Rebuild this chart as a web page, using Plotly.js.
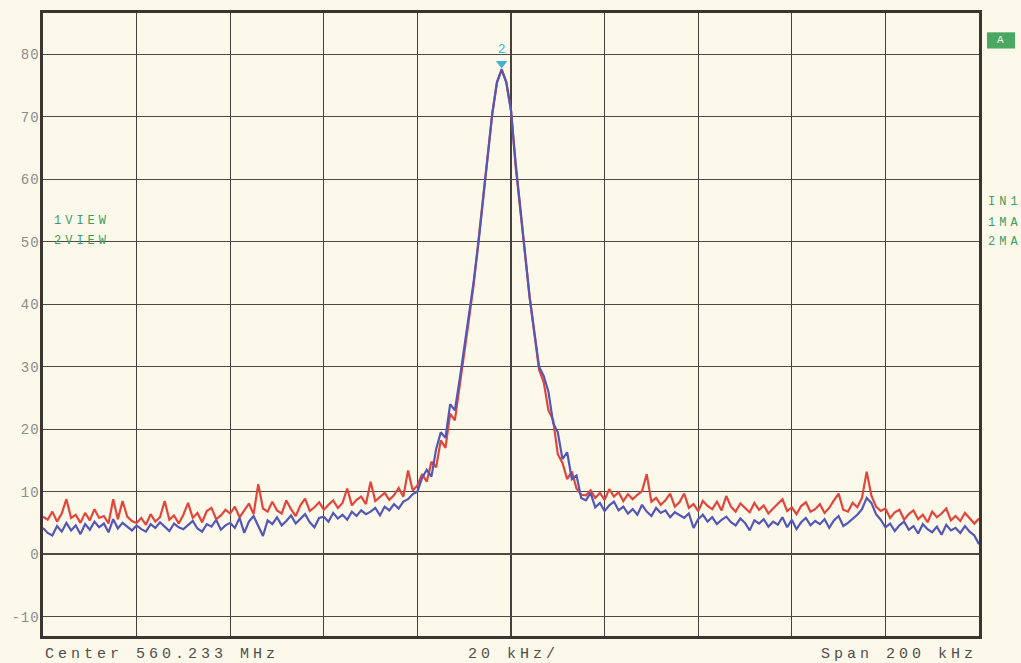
<!DOCTYPE html>
<html>
<head>
<meta charset="utf-8">
<script src="https://cdn.plot.ly/plotly-3.0.1.min.js"></script>
<style>
  html, body { margin: 0; padding: 0; background: #fcf9ea; }
  #chart { width: 1021px; height: 663px; }
  .annotation-text { letter-spacing: 4px; }
  .ytick text { letter-spacing: 1px; }
</style>
</head>
<body>
<div id="chart"></div>
<script>
// Sweep: 560.233 MHz centre, 200 kHz span, offsets in kHz (one point per kHz)
const freqStart = -100, freqStep = 1;

// Trace 1 (red), dB, offsets -100 ... +100 kHz
const redLeft = [
  6.0, 5.5, 6.8, 5.2, 6.5, 8.8, 5.8, 6.3, 5.0, 6.6,
  5.4, 7.2, 5.8, 6.1, 4.9, 8.8, 5.6, 8.5, 6.0, 5.3,
  5.0, 5.8, 4.7, 6.4, 5.2, 5.9, 8.5, 5.5, 6.2, 4.9,
  6.3, 8.2, 5.8, 6.6, 5.1, 6.9, 7.4, 5.6, 6.2, 7.1,
  6.5, 7.6, 5.9, 7.0, 8.1, 6.4, 11.2, 7.3, 6.8, 8.4,
  7.0, 6.5, 8.6, 7.2, 6.1, 7.8, 8.9, 6.9, 7.5, 8.3,
  7.1, 7.9, 8.6, 7.4, 8.2, 10.5, 7.8, 8.7, 9.2, 8.0,
  11.6, 8.5, 9.1, 9.8, 8.7, 9.4, 10.6, 9.2, 13.4, 10.2
];
const redPeak = [
  11.0, 12.8, 11.6, 14.8, 13.9, 18.2, 17.0, 22.5, 21.4, 26.5,
  32.0, 37.5, 43.0, 50.0, 57.0, 64.0, 70.5, 75.5, 77.6, 75.5,
  71.0, 62.0, 55.5, 48.0, 41.0, 35.5, 29.5, 27.5, 23.0, 21.5,
  16.0, 14.6, 12.0, 13.2, 10.5, 9.5
];
const redRight = [
  9.4, 10.2, 9.0, 9.8, 8.7, 10.4, 9.2, 9.9, 8.5, 9.6,
  8.8, 9.5, 10.1, 12.8, 8.4, 9.0, 7.9, 8.6, 9.7, 7.6,
  8.3, 9.7, 7.4, 8.0, 6.9, 8.5, 7.7, 7.2, 8.4, 7.0,
  9.3, 7.6, 6.8, 8.1, 7.4, 6.7, 8.2, 7.1, 7.8, 6.5,
  7.3, 8.0, 8.8, 6.9, 7.5, 6.4, 7.7, 8.3, 6.8, 7.2,
  8.0, 6.6, 7.4, 8.6, 9.7, 7.1, 6.8, 8.2, 7.5, 9.0,
  13.2, 9.4, 7.6, 6.9, 7.3, 5.8, 6.7, 7.1, 5.5, 6.4,
  7.0, 5.6, 6.3, 5.1, 6.8, 5.9, 6.5, 7.3, 5.4, 6.1,
  5.3, 6.6, 5.8, 4.9, 5.7
];

// Trace 2 (blue), dB
const blueLeft = [
  4.2, 3.4, 3.0, 4.5, 3.6, 5.0, 3.8, 4.6, 3.2, 4.8,
  3.9, 5.2, 4.3, 4.9, 3.5, 5.6, 4.1, 5.0, 4.4, 3.8,
  4.6, 4.0, 3.6, 4.8, 4.2, 5.1, 4.4, 3.7, 4.9, 4.3,
  4.0, 4.7, 5.3, 4.1, 3.6, 4.8, 4.4, 5.5, 3.9, 4.6,
  5.0, 4.2, 5.8, 3.4, 5.2, 6.1, 4.5, 2.9, 5.4, 4.8,
  5.9, 4.6, 5.3, 6.2, 4.9, 5.6, 6.4, 5.1, 4.3, 5.8,
  6.0, 5.2, 6.6, 5.7, 6.3, 5.5, 6.8, 6.1, 7.0, 6.4,
  6.8, 7.4, 6.2, 7.6, 7.0, 8.0, 7.3, 8.4, 8.8, 9.6
];
const bluePeak = [
  10.0, 12.2, 13.5, 12.4, 16.8, 19.5, 18.6, 24.0, 23.0, 27.8,
  33.0, 39.0, 43.5, 49.5, 56.5, 64.0, 70.5, 75.5, 77.5, 75.5,
  71.0, 62.5, 55.5, 48.5, 41.0, 35.5, 30.0, 28.5, 26.0, 21.0,
  19.5, 15.2, 16.3, 12.0, 12.6, 9.0
];
const blueRight = [
  8.6, 9.8, 7.5, 8.2, 6.9, 7.8, 8.4, 7.0, 7.6, 6.5,
  7.2, 6.3, 7.9, 6.8, 6.1, 7.4, 6.6, 7.0, 5.9, 6.7,
  6.2, 5.8, 6.5, 4.2, 5.6, 6.3, 5.2, 5.9, 4.8, 5.5,
  6.0, 5.1, 4.6, 5.7, 5.0, 3.8, 5.4, 4.9, 5.6, 4.4,
  5.2, 4.7, 5.9, 4.3, 5.5, 4.0, 5.1, 5.8, 4.6, 5.3,
  4.8, 5.6, 4.2, 5.4, 6.1, 4.5, 5.0, 5.7, 6.3, 7.2,
  9.0, 8.2, 6.4, 5.5, 4.3, 4.9, 3.7, 4.6, 5.2, 3.9,
  4.5, 3.3, 4.8, 4.0, 3.5, 4.4, 3.1, 4.7, 3.8, 4.2,
  3.4, 4.5, 3.6, 3.0, 1.6
];

const yTickVals = [-10, 0, 10, 20, 30, 40, 50, 60, 70, 80];
const yTickText = ["-10", "0", "10", "20", "30", "40", "50", "60", "70", "80"];
const xGridVals = [-80, -60, -40, -20, 0, 20, 40, 60, 80];

const bottomLabels = ["Center 560.233 MHz", "20 kHz/", "Span 200 kHz"];
const leftLabels = ["1VIEW", "2VIEW"];
const rightLabels = ["IN1", "1MA", "2MA"];
const markerLabel = "2";
const boxLabel = "A";

const red = redLeft.concat(redPeak, redRight);
const blue = blueLeft.concat(bluePeak, blueRight);
const freq = red.map((_, i) => freqStart + i * freqStep);

let iMax = 0;
blue.forEach((v, i) => { if (v > blue[iMax]) iMax = i; });

const traces = [
  { x: freq, y: red, type: 'scatter', mode: 'lines',
    line: { color: '#e2453c', width: 2.2 }, hoverinfo: 'skip' },
  { x: freq, y: blue, type: 'scatter', mode: 'lines',
    line: { color: '#5257b8', width: 2.2 }, hoverinfo: 'skip' },
  { x: [freq[iMax]], y: [blue[iMax] + 1.0], type: 'scatter', mode: 'markers+text',
    marker: { symbol: 'triangle-down', size: 10, color: '#41b2d8' },
    text: [markerLabel], textposition: 'top center',
    textfont: { family: 'Liberation Mono, monospace', size: 13, color: '#41b2d8' },
    hoverinfo: 'skip' }
];

const mono = 'Liberation Mono, Courier New, monospace';
const green = '#3f9c5c';

const annotations = [
  { text: bottomLabels[0], xref: 'paper', yref: 'paper', x: 0.0, y: -0.029, xanchor: 'left', yanchor: 'middle', showarrow: false, font: { family: mono, size: 15, color: '#4e4e4e' } },
  { text: bottomLabels[1], xref: 'paper', yref: 'paper', x: 0.452, y: -0.029, xanchor: 'left', yanchor: 'middle', showarrow: false, font: { family: mono, size: 15, color: '#4e4e4e' } },
  { text: bottomLabels[2], xref: 'paper', yref: 'paper', x: 0.829, y: -0.029, xanchor: 'left', yanchor: 'middle', showarrow: false, font: { family: mono, size: 15, color: '#4e4e4e' } },
  { text: leftLabels[0], xref: 'paper', yref: 'paper', x: 0.0095, y: 0.6666, xanchor: 'left', yanchor: 'middle', showarrow: false, font: { family: mono, size: 12, color: green } },
  { text: leftLabels[1], xref: 'paper', yref: 'paper', x: 0.0095, y: 0.6345, xanchor: 'left', yanchor: 'middle', showarrow: false, font: { family: mono, size: 12, color: green } },
  { text: rightLabels[0], xref: 'paper', yref: 'paper', x: 1.008, y: 0.697, xanchor: 'left', yanchor: 'middle', showarrow: false, font: { family: mono, size: 12, color: green } },
  { text: rightLabels[1], xref: 'paper', yref: 'paper', x: 1.008, y: 0.6634, xanchor: 'left', yanchor: 'middle', showarrow: false, font: { family: mono, size: 12, color: green } },
  { text: rightLabels[2], xref: 'paper', yref: 'paper', x: 1.008, y: 0.6329, xanchor: 'left', yanchor: 'middle', showarrow: false, font: { family: mono, size: 12, color: green } },
  { text: boxLabel, xref: 'paper', yref: 'paper', x: 1.0255, y: 0.956, xanchor: 'center', yanchor: 'middle', showarrow: false, font: { family: mono, size: 11, color: '#f4f4e8' } }
];

const shapes = [
  { type: 'rect', xref: 'paper', yref: 'paper', x0: 1.0085, x1: 1.0385, y0: 0.943, y1: 0.969,
    fillcolor: '#4aa863', line: { width: 0 } }
];

const layout = {
  width: 1021, height: 663,
  margin: { l: 43, r: 42, t: 13, b: 27, pad: 0 },
  paper_bgcolor: '#fcf9ea',
  plot_bgcolor: '#fcf9ea',
  showlegend: false,
  hovermode: false,
  xaxis: {
    range: [-100, 100], tickvals: xGridVals, showticklabels: false,
    showgrid: true, gridcolor: '#45403a', gridwidth: 1.4,
    showline: true, linecolor: '#3a3530', linewidth: 2.6, mirror: true,
    zeroline: false, ticks: ''
  },
  yaxis: {
    range: [-13.1, 86.6], tickvals: yTickVals, ticktext: yTickText,
    showgrid: true, gridcolor: '#4e4944', gridwidth: 1.3,
    showline: true, linecolor: '#3a3530', linewidth: 2.6, mirror: true,
    zeroline: false, ticks: '', ticklabelstandoff: -2,
    tickfont: { family: mono, size: 14, color: '#8c8c8c' }
  },
  annotations: annotations,
  shapes: shapes
};

Plotly.newPlot('chart', traces, layout, { displayModeBar: false, staticPlot: true });
</script>
</body>
</html>
